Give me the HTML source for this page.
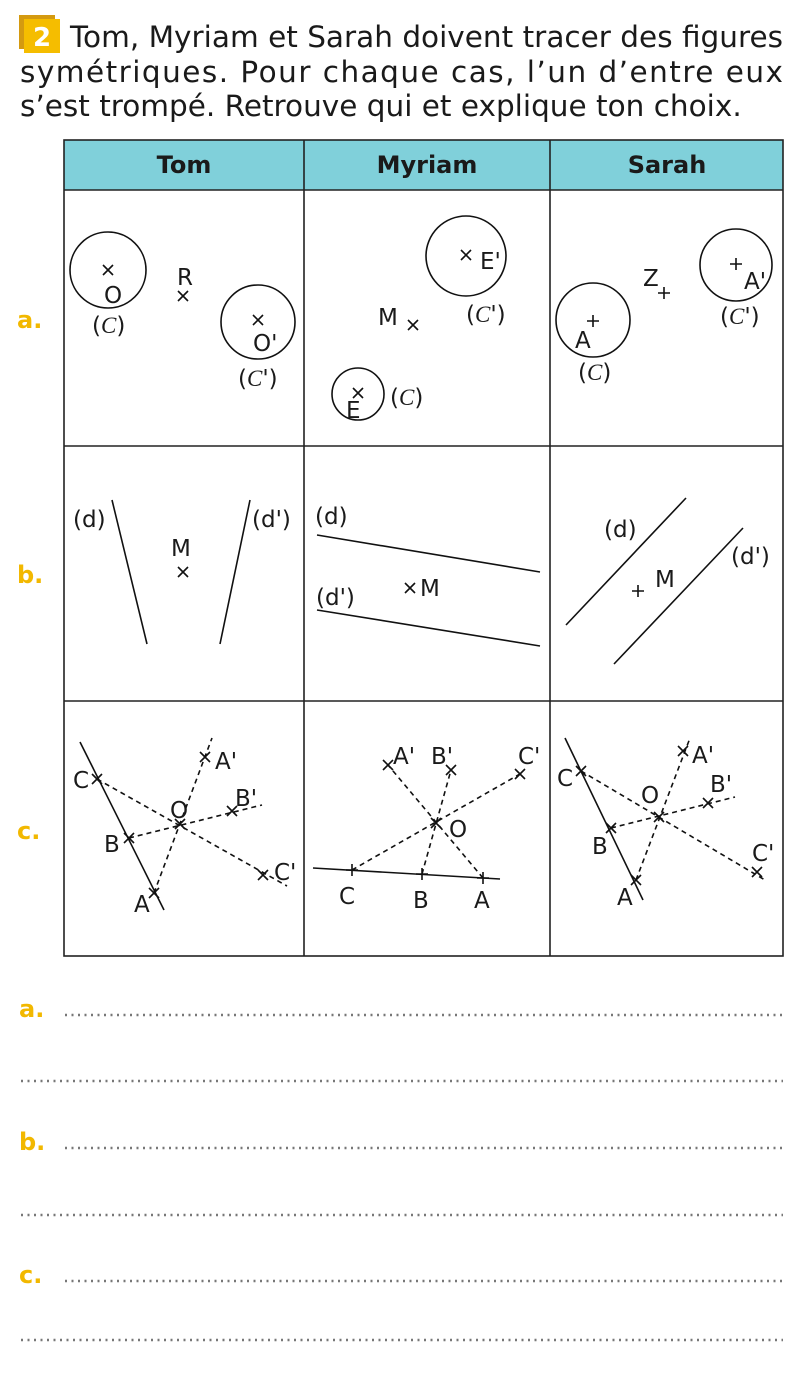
<!DOCTYPE html>
<html><head><meta charset="utf-8"><style>
body{margin:0;background:#fff}
svg{display:block}
text{font-family:"DejaVu Sans","Liberation Sans",sans-serif;fill:#1a1a1a}
.cal{font-family:"Liberation Serif",serif;font-style:italic}
.l{stroke:#111;stroke-width:1.6;fill:none}
.d{stroke:#111;stroke-width:1.6;fill:none;stroke-dasharray:5 4}
.y{fill:#f2b800;font-weight:bold;font-size:24px}
.dot{stroke:#777;stroke-width:2.5;stroke-dasharray:2 4.5}
</style></head><body>
<svg width="803" height="1376" viewBox="0 0 803 1376">
<defs><g id="x"><path d="M-5,-5L5,5M5,-5L-5,5" stroke="#111" stroke-width="1.6"/></g>
<g id="p"><path d="M-6,0L6,0M0,-6L0,6" stroke="#111" stroke-width="1.6"/></g></defs>
<rect x="19" y="15" width="36" height="34" fill="#d49a10"/>
<rect x="24" y="19" width="36" height="34" fill="#f5bd00"/>
<text x="42" y="46" font-size="26" font-weight="bold" text-anchor="middle" style="fill:#fff">2</text>
<text x="70" y="47" font-size="29.5" textLength="713" lengthAdjust="spacing">Tom, Myriam et Sarah doivent tracer des figures</text>
<text x="20" y="82" font-size="29.5" textLength="763" lengthAdjust="spacing">symétriques. Pour chaque cas, l’un d’entre eux</text>
<text x="20" y="116" font-size="29.5">s’est trompé. Retrouve qui et explique ton choix.</text>
<rect x="64" y="140" width="719" height="50" fill="#80d0da"/>
<g stroke="#222" stroke-width="1.6" fill="none">
<rect x="64" y="140" width="719" height="816"/>
<path d="M304,140V956M550,140V956M64,190H783M64,446H783M64,701H783"/>
</g>
<g font-size="24" font-weight="bold" text-anchor="middle">
<text x="184" y="173">Tom</text><text x="427" y="173">Myriam</text><text x="667" y="173">Sarah</text></g>
<text class="y" x="17" y="328">a.</text><text class="y" x="17" y="583">b.</text><text class="y" x="17" y="839">c.</text>
<g font-size="23">
<circle class="l" cx="108" cy="270" r="38"/><use href="#x" x="108" y="270"/><text x="104" y="303">O</text>
<text x="177" y="285">R</text><use href="#x" x="183" y="296"/>
<circle class="l" cx="258" cy="322" r="37"/><use href="#x" x="258" y="320"/><text x="253" y="351">O'</text>
<text x="92" y="333">(<tspan class="cal">C</tspan>)</text>
<text x="238" y="386">(<tspan class="cal">C</tspan>')</text>
<circle class="l" cx="466" cy="256" r="40"/><use href="#x" x="466" y="255"/><text x="480" y="269">E'</text>
<text x="378" y="325">M</text><use href="#x" x="413" y="325"/>
<text x="466" y="322">(<tspan class="cal">C</tspan>')</text>
<circle class="l" cx="358" cy="394" r="26"/><use href="#x" x="358" y="393"/><text x="346" y="418">E</text>
<text x="390" y="405">(<tspan class="cal">C</tspan>)</text>
<circle class="l" cx="593" cy="320" r="37"/><use href="#p" x="593" y="321"/><text x="575" y="348">A</text>
<text x="578" y="380">(<tspan class="cal">C</tspan>)</text>
<text x="643" y="286">Z</text><use href="#p" x="664" y="293"/>
<circle class="l" cx="736" cy="265" r="36"/><use href="#p" x="736" y="264"/><text x="744" y="289">A'</text>
<text x="720" y="324">(<tspan class="cal">C</tspan>')</text>
<path class="l" d="M112,500L147,644M250,500L220,644"/>
<text x="73" y="527">(d)</text><text x="252" y="527">(d')</text><text x="171" y="556">M</text><use href="#x" x="183" y="572"/>
<path class="l" d="M317,535L540,572M317,610L540,646"/>
<text x="315" y="524">(d)</text><text x="316" y="605">(d')</text><use href="#x" x="410" y="588"/><text x="420" y="596">M</text>
<path class="l" d="M566,625L686,498M614,664L743,528"/>
<text x="604" y="537">(d)</text><text x="731" y="564">(d')</text><use href="#p" x="638" y="591"/><text x="655" y="587">M</text>
<path class="l" d="M80,742L164,910"/>
<path class="d" d="M97,779L287,886M129,838L262,805M154,893L212,738"/>
<use href="#x" x="97" y="779"/><use href="#x" x="129" y="838"/><use href="#x" x="154" y="893"/><use href="#x" x="180" y="824"/>
<use href="#x" x="205" y="757"/><use href="#x" x="232" y="811"/><use href="#x" x="263" y="875"/>
<text x="73" y="788">C</text><text x="104" y="852">B</text><text x="134" y="912">A</text><text x="170" y="818">O</text>
<text x="215" y="769">A'</text><text x="235" y="806">B'</text><text x="274" y="880">C'</text>
<path class="l" d="M313,868L500,879"/>
<path class="d" d="M352,870L520,774M422,874L451,770M483,878L388,765"/>
<use href="#p" x="352" y="870"/><use href="#p" x="422" y="874"/><use href="#p" x="483" y="878"/><use href="#x" x="436" y="823"/>
<use href="#x" x="388" y="765"/><use href="#x" x="451" y="770"/><use href="#x" x="520" y="774"/>
<text x="339" y="904">C</text><text x="413" y="908">B</text><text x="474" y="908">A</text><text x="449" y="837">O</text>
<text x="393" y="764">A'</text><text x="431" y="764">B'</text><text x="518" y="764">C'</text>
<path class="l" d="M565,738L643,900"/>
<path class="d" d="M581,771L765,880M611,828L735,797M636,880L690,738"/>
<use href="#x" x="581" y="771"/><use href="#x" x="611" y="828"/><use href="#x" x="636" y="880"/><use href="#x" x="659" y="817"/>
<use href="#x" x="683" y="751"/><use href="#x" x="708" y="803"/><use href="#x" x="757" y="872"/>
<text x="557" y="786">C</text><text x="592" y="854">B</text><text x="617" y="905">A</text><text x="641" y="803">O</text>
<text x="692" y="763">A'</text><text x="710" y="792">B'</text><text x="752" y="861">C'</text>
</g>
<text class="y" x="19" y="1017">a.</text><path class="dot" d="M65,1015H783"/>
<path class="dot" d="M21,1081H783"/>
<text class="y" x="19" y="1150">b.</text><path class="dot" d="M65,1148H783"/>
<path class="dot" d="M21,1215H783"/>
<text class="y" x="19" y="1283">c.</text><path class="dot" d="M65,1281H783"/>
<path class="dot" d="M21,1340H783"/>
</svg>
</body></html>
